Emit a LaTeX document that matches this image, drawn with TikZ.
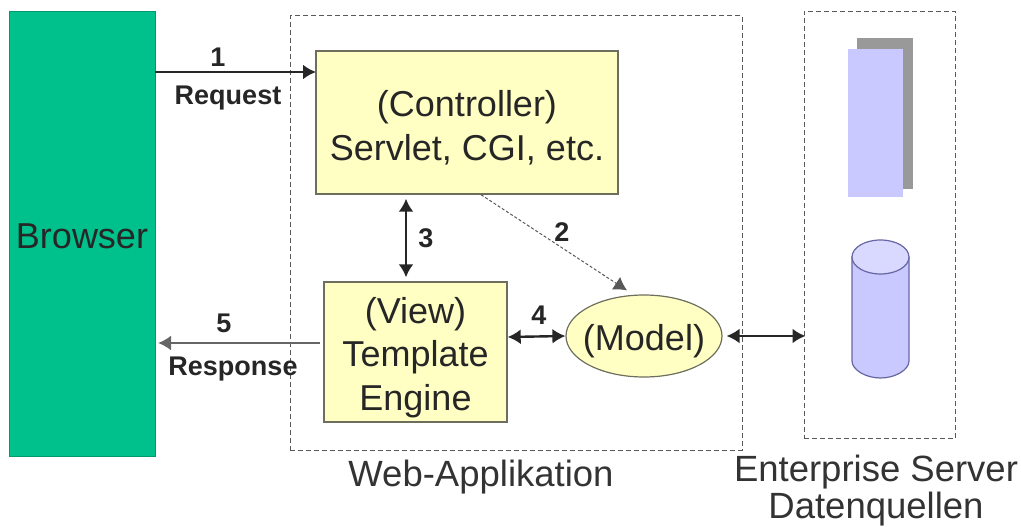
\documentclass[tikz,border=0pt]{standalone}
\usepackage{fontspec}
\setmainfont{Liberation Sans}
\usetikzlibrary{arrows.meta,shapes.geometric}
\definecolor{browsergreen}{HTML}{00C08C}
\definecolor{boxyellow}{HTML}{FFFFC4}
\definecolor{boxedge}{HTML}{6E6E5E}
\definecolor{storelilac}{HTML}{C9C9FF}
\newcommand{\lowered}{\rule{0pt}{37pt}}
\begin{document}
\begin{tikzpicture}[x=1pt,y=-1pt,>={Latex[length=13pt,width=15pt]}]
    \tikzstyle{box}=[rectangle, draw=boxedge, line width=1.4pt, fill=boxyellow, inner sep=0pt, align=center, font=\fontsize{36}{43.5}\selectfont, text=black!85]
    \tikzstyle{frame}=[rectangle, draw=black!65, line width=1pt, dash pattern=on 5pt off 3pt, inner sep=0pt]
    \tikzstyle{num}=[inner sep=0pt, font=\fontsize{27}{30}\bfseries\selectfont, text=black!85]
    \tikzstyle{caption}=[inner sep=0pt, align=center, font=\fontsize{36.5}{42}\selectfont, text=black!80]
    \tikzstyle{link}=[<->, line width=2.4pt, black!85]

    \useasboundingbox (0,0) rectangle (1021,527);

    \node[frame, minimum width=452pt, minimum height=434pt] (webapp) at (516,233) {};
    \node[frame, minimum width=151pt, minimum height=427pt] (server) at (879.5,225) {};

    \node[rectangle, draw=browsergreen!80!black, fill=browsergreen, inner sep=0pt, minimum width=146pt, minimum height=445pt, align=center, text=black!85, font=\fontsize{36}{43}\selectfont] (browser) at (82,233.5) {\rule{0pt}{31pt}Browser};
    \node[box, minimum width=302pt, minimum height=143pt] (ctrl) at (467,122.5) {\lowered(Controller)\\Servlet, CGI, etc.};
    \node[box, minimum width=183pt, minimum height=140pt] (view) at (415.5,352) {\lowered(View)\\Template\\Engine};
    \node[ellipse, draw=boxedge, line width=1.2pt, fill=boxyellow, inner sep=0pt, minimum width=156pt, minimum height=82pt, label={[text=black!85, font=\fontsize{36}{43}\selectfont, yshift=-5pt]center:(Model)}] (model) at (644,336) {};

    \node[rectangle, fill=black!40, inner sep=0pt, minimum width=56pt, minimum height=151pt] (backsheet) at (885,113.5) {};
    \node[rectangle, fill=storelilac, inner sep=0pt, minimum width=55pt, minimum height=148pt] (sheet) at (875.5,123) {};
    \draw[draw=black!60!blue!60, line width=1.2pt, fill=storelilac] (852,257) -- (852,361) .. controls (852,370) and (866,378) .. (880.5,378) .. controls (895,378) and (909,370) .. (909,361) -- (909,257) -- cycle;
    \draw[draw=black!60!blue!60, line width=1.2pt, fill=storelilac!70!white] (880.5,257) ellipse [x radius=28.5, y radius=17];

    \coordinate (req) at (316,72);
    \coordinate (resp) at (320,343);
    \draw[->, line width=2.4pt, black!85] (browser.east |- req) -- (req);
    \draw[->, line width=1.4pt, black!60] (resp) -- ([xshift=3pt]browser.east |- resp);
    \draw[link] ([xshift=-9.5pt,yshift=-4pt]view.north |- ctrl.south) -- ([xshift=-9.5pt,yshift=4pt]view.north);
    \draw[->, line width=1pt, black!65, densely dashed] ([xshift=14pt]ctrl.south) -- ([xshift=-17pt,yshift=4pt]model.north);
    \draw[link] ([yshift=15pt]view.east) -- (model.west);
    \draw[link] ([xshift=4pt]model.east) -- ([xshift=2pt]model.east -| server.west);

    \node[num] (n1) at (218,57) {1};
    \node[num] (request) at (228,98) {Request};
    \node[num] (n2) at (562,232) {2};
    \node[num] (n3) at (426,238) {3};
    \node[num] (n4) at (539,315) {4};
    \node[num] (n5) at (224,323) {5};
    \node[num] (response) at (233,369) {Response};

    \node[caption] (webcap) at (481,477) {Web-Applikation};
    \node[caption] (servercap) at (876,472) {Enterprise Server};
    \node[caption] (datacap) at (876,509.5) {Datenquellen};
\end{tikzpicture}
\end{document}
